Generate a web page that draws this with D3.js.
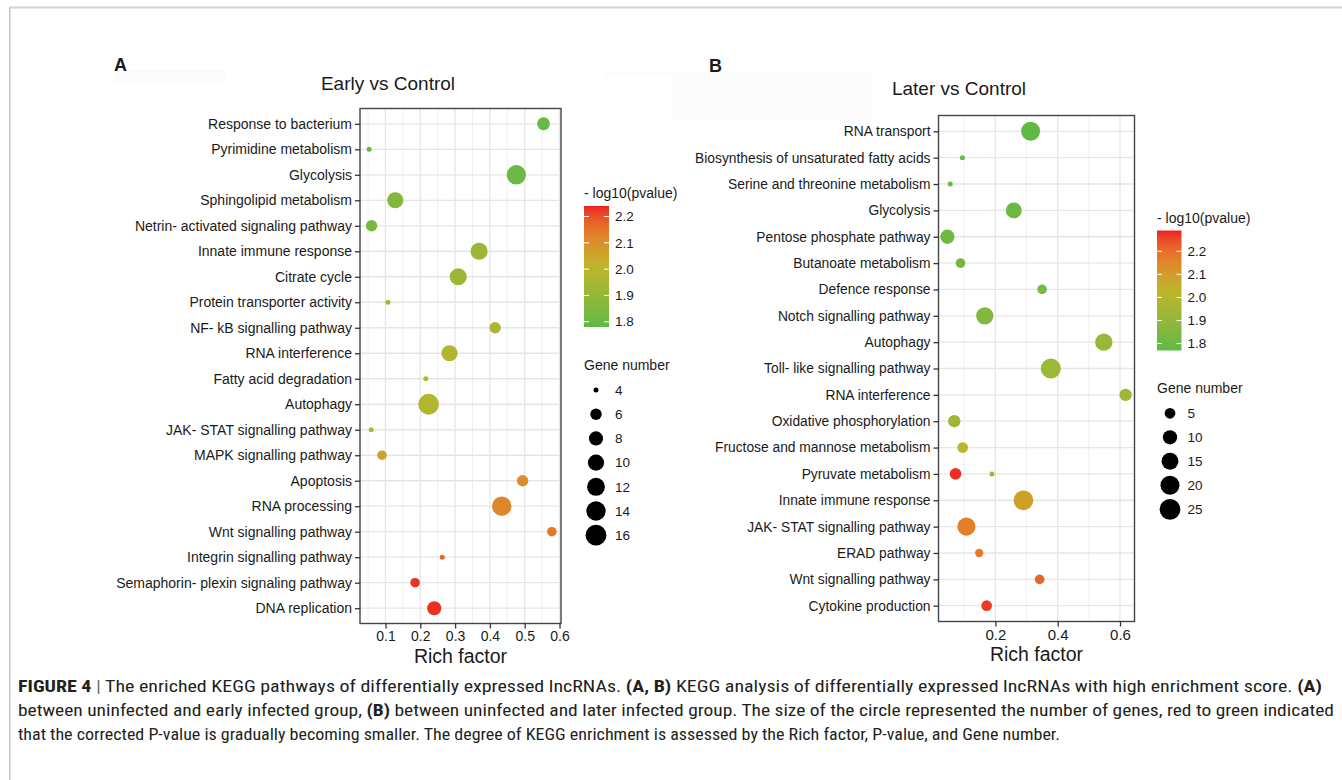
<!DOCTYPE html>
<html>
<head>
<meta charset="utf-8">
<script src="https://cdn.jsdelivr.net/npm/d3@7"></script>
<style>
  body { margin: 0; background: #fff; }
  svg text { font-family: "Liberation Sans", Arial, sans-serif; fill: #1a1a1a; }
  text.caption { font-family: "Liberation Sans Narrow", "Roboto Condensed", "Liberation Sans", sans-serif; fill: #231f20; }
</style>
</head>
<body>
<div id="fig"></div>
<script>
// Panel A: Early vs Control
var pathA = ["Response to bacterium", "Pyrimidine metabolism", "Glycolysis", "Sphingolipid metabolism",
  "Netrin- activated signaling pathway", "Innate immune response", "Citrate cycle", "Protein transporter activity",
  "NF- kB signalling pathway", "RNA interference", "Fatty acid degradation", "Autophagy",
  "JAK- STAT signalling pathway", "MAPK signalling pathway", "Apoptosis", "RNA processing",
  "Wnt signalling pathway", "Integrin signalling pathway", "Semaphorin- plexin signaling pathway", "DNA replication"];
var richA = [0.554, 0.053, 0.476, 0.128, 0.060, 0.369, 0.309, 0.107, 0.415, 0.284,
  0.216, 0.224, 0.059, 0.090, 0.494, 0.434, 0.578, 0.263, 0.185, 0.240];
var genesA = [7, 4, 14, 10, 6, 11, 11, 4, 6, 10, 4, 16, 4, 5, 6, 14, 5, 4, 5, 8];
var pvalA = [1.80, 1.80, 1.81, 1.86, 1.83, 1.92, 1.92, 1.95, 1.96, 1.97,
  1.98, 1.98, 1.99, 2.05, 2.10, 2.12, 2.15, 2.17, 2.23, 2.23];

// Panel B: Later vs Control (two different pathways share the name "Pyruvate metabolism")
var catsB = ["RNA transport", "Biosynthesis of unsaturated fatty acids", "Serine and threonine metabolism", "Glycolysis",
  "Pentose phosphate pathway", "Butanoate metabolism", "Defence response", "Notch signalling pathway", "Autophagy",
  "Toll- like signalling pathway", "RNA interference", "Oxidative phosphorylation", "Fructose and mannose metabolism",
  "Pyruvate metabolism", "Innate immune response", "JAK- STAT signalling pathway", "ERAD pathway",
  "Wnt signalling pathway", "Cytokine production"];
var pathB = catsB.concat(["Pyruvate metabolism"]);
var richB = [0.313, 0.094, 0.055, 0.259, 0.046, 0.088, 0.350, 0.166, 0.548, 0.378,
  0.618, 0.068, 0.095, 0.072, 0.290, 0.107, 0.148, 0.342, 0.172, 0.189];
var genesB = [20, 2, 2, 13, 10, 4, 4, 16, 16, 23, 7, 7, 5, 6, 22, 18, 3, 4, 5, 2];
var pvalB = [1.78, 1.79, 1.79, 1.80, 1.81, 1.82, 1.83, 1.86, 1.92, 1.93,
  1.93, 1.95, 2.03, 2.28, 2.09, 2.17, 2.18, 2.21, 2.27, 1.95];

// legend breaks / tick labels
var xTicksA = [0.1, 0.2, 0.3, 0.4, 0.5, 0.6];
var xTicksB = [0.2, 0.4, 0.6];
var colorTicks = [1.8, 1.9, 2.0, 2.1, 2.2];
var sizeBreaksA = [4, 6, 8, 10, 12, 14, 16];
var sizeBreaksB = [5, 10, 15, 20, 25];

var captionLines = [
  [["FIGURE 4", true], [" | ", false, "#6d6e71"], ["The enriched KEGG pathways of differentially expressed lncRNAs. ", false], ["(A, B)", true], [" KEGG analysis of differentially expressed lncRNAs with high enrichment score. ", false], ["(A)", true]],
  [["between uninfected and early infected group, ", false], ["(B)", true], [" between uninfected and later infected group. The size of the circle represented the number of genes, red to green indicated", false]],
  [["that the corrected P-value is gradually becoming smaller. The degree of KEGG enrichment is assessed by the Rich factor, P-value, and Gene number.", false]]
];

var width = 1342, height = 780;

var svg = d3.select("#fig").append("svg")
  .attr("width", width)
  .attr("height", height);

// figure frame (top and left rule)
svg.append("line").attr("x1", 9).attr("x2", width).attr("y1", 7.5).attr("y2", 7.5)
  .attr("stroke", "#d2d2d2").attr("stroke-width", 2);
svg.append("line").attr("x1", 9.8).attr("x2", 9.8).attr("y1", 7).attr("y2", height)
  .attr("stroke", "#c8c8c8").attr("stroke-width", 1.5);

// faint paste-over boxes behind panel letters
svg.append("rect").attr("x", 114).attr("y", 70).attr("width", 112).attr("height", 13).attr("fill", "#fbfbfb");
svg.append("rect").attr("x", 604).attr("y", 71).attr("width", 267).attr("height", 7).attr("fill", "#fcfcfc");
svg.append("rect").attr("x", 672).attr("y", 71).attr("width", 199).attr("height", 49).attr("fill", "#fcfcfc");

function drawPanel(cfg) {
  var g = svg.append("g");

  var data = cfg.path.map(function(p, i) {
    return { path: p, rich: cfg.rich[i], genes: cfg.genes[i], pval: cfg.pval[i] };
  });

  // x scale with ggplot-like 5% expansion
  var ext = d3.extent(cfg.rich);
  var pad = (ext[1] - ext[0]) * 0.05;
  var x = d3.scaleLinear()
    .domain([ext[0] - pad, ext[1] + pad])
    .range([cfg.left, cfg.right]);

  var y = d3.scalePoint()
    .domain(cfg.cats)
    .range([cfg.top, cfg.bottom])
    .padding(0.6);

  var lo = cfg.pRange[0], hi = cfg.pRange[1];
  var color = d3.scaleLinear()
    .domain([lo, lo + (hi - lo) * 0.5, lo + (hi - lo) * 0.76, hi])
    .range(["#5cb946", "#bdb52b", "#e3812a", "#ee1f25"])
    .interpolate(d3.interpolateLab);

  var norm = d3.scaleLinear().domain(cfg.gRange).range([0, 1]).clamp(true);
  function radius(v) { return 2.5 + 7.9 * Math.sqrt(norm(v)); }

  // grid
  var step = cfg.xTicks[1] - cfg.xTicks[0];
  var minor = [];
  for (var v = cfg.xTicks[0] - step / 2; v <= x.domain()[1]; v += step) {
    if (v >= x.domain()[0]) minor.push(v);
  }
  g.append("g").selectAll("line").data(minor).enter().append("line")
    .attr("x1", function(d) { return x(d); }).attr("x2", function(d) { return x(d); })
    .attr("y1", cfg.top).attr("y2", cfg.bottom)
    .attr("stroke", "#efefef").attr("stroke-width", 1);
  g.append("g").selectAll("line").data(cfg.xTicks).enter().append("line")
    .attr("x1", function(d) { return x(d); }).attr("x2", function(d) { return x(d); })
    .attr("y1", cfg.top).attr("y2", cfg.bottom)
    .attr("stroke", "#e6e6e6").attr("stroke-width", 1.3);
  g.append("g").selectAll("line").data(cfg.cats).enter().append("line")
    .attr("x1", cfg.left).attr("x2", cfg.right)
    .attr("y1", function(d) { return y(d); }).attr("y2", function(d) { return y(d); })
    .attr("stroke", "#e6e6e6").attr("stroke-width", 1.3);

  // points
  g.append("g").selectAll("circle").data(data).enter().append("circle")
    .attr("cx", function(d) { return x(d.rich); })
    .attr("cy", function(d) { return y(d.path); })
    .attr("r", function(d) { return radius(d.genes); })
    .attr("fill", function(d) { return color(d.pval); });

  // panel border
  g.append("rect")
    .attr("x", cfg.left).attr("y", cfg.top)
    .attr("width", cfg.right - cfg.left).attr("height", cfg.bottom - cfg.top)
    .attr("fill", "none").attr("stroke", "#444").attr("stroke-width", 1.4);

  // axes
  var yAxis = g.append("g")
    .attr("transform", "translate(" + cfg.left + ",0)")
    .call(d3.axisLeft(y).tickSize(5).tickPadding(3));
  yAxis.select(".domain").remove();
  yAxis.selectAll(".tick line").attr("stroke", "#333").attr("stroke-width", 1.3);
  yAxis.selectAll(".tick text").attr("font-size", cfg.yTickSize).attr("fill", "#1a1a1a");

  var xAxis = g.append("g")
    .attr("transform", "translate(0," + cfg.bottom + ")")
    .call(d3.axisBottom(x).tickValues(cfg.xTicks).tickFormat(d3.format(".1f")).tickSize(5).tickPadding(3));
  xAxis.select(".domain").remove();
  xAxis.selectAll(".tick line").attr("stroke", "#333").attr("stroke-width", 1.3);
  xAxis.selectAll(".tick text").attr("font-size", cfg.xTickSize).attr("fill", "#1a1a1a");

  g.append("text")
    .attr("x", (cfg.left + cfg.right) / 2).attr("y", cfg.bottom + 39)
    .attr("text-anchor", "middle").attr("font-size", 19.5)
    .text("Rich factor");

  g.append("text")
    .attr("x", cfg.titleX).attr("y", cfg.titleY)
    .attr("text-anchor", "middle").attr("font-size", 19)
    .text(cfg.title);

  g.append("text")
    .attr("x", cfg.letterX).attr("y", cfg.letterY)
    .attr("font-size", 18).attr("font-weight", "bold").attr("fill", "#000")
    .text(cfg.letter);

  // colour bar legend
  var lg = cfg.legend;
  var cb = d3.scaleLinear().domain(cfg.pRange).range([lg.barY + lg.barH, lg.barY]);
  var gradId = "grad" + cfg.letter;
  var grad = svg.append("defs").append("linearGradient")
    .attr("id", gradId).attr("x1", 0).attr("x2", 0).attr("y1", 1).attr("y2", 0);
  d3.range(0, 1.0001, 0.05).forEach(function(t) {
    grad.append("stop").attr("offset", t)
      .attr("stop-color", color(lo + t * (hi - lo)));
  });

  g.append("text").attr("x", lg.x).attr("y", lg.barY - 8)
    .attr("font-size", 14).text("- log10(pvalue)");
  g.append("rect").attr("x", lg.x).attr("y", lg.barY)
    .attr("width", lg.barW).attr("height", lg.barH)
    .attr("fill", "url(#" + gradId + ")");
  var ct = g.append("g").selectAll("g").data(colorTicks).enter().append("g");
  ct.append("line").attr("x1", lg.x).attr("x2", lg.x + 5)
    .attr("y1", function(d) { return cb(d); }).attr("y2", function(d) { return cb(d); })
    .attr("stroke", "#fff").attr("stroke-width", 1);
  ct.append("line").attr("x1", lg.x + lg.barW - 5).attr("x2", lg.x + lg.barW)
    .attr("y1", function(d) { return cb(d); }).attr("y2", function(d) { return cb(d); })
    .attr("stroke", "#fff").attr("stroke-width", 1);
  ct.append("text").attr("x", lg.x + lg.barW + 6)
    .attr("y", function(d) { return cb(d); }).attr("dy", "0.35em")
    .attr("font-size", 13.5).text(function(d) { return d3.format(".1f")(d); });

  // size legend
  g.append("text").attr("x", lg.x).attr("y", lg.sizeTitleY)
    .attr("font-size", 14).text("Gene number");
  var sl = g.append("g").selectAll("g").data(cfg.sizeBreaks).enter().append("g")
    .attr("transform", function(d, i) {
      return "translate(0," + (lg.sizeY0 + i * lg.sizeStep) + ")";
    });
  sl.append("circle").attr("cx", lg.dotX).attr("cy", 0)
    .attr("r", function(d) { return radius(d); }).attr("fill", "#000");
  sl.append("text").attr("x", lg.x + lg.barW + 6).attr("y", 0).attr("dy", "0.35em")
    .attr("font-size", 13.5).text(function(d) { return d; });
}

drawPanel({
  letter: "A", letterX: 114, letterY: 70.5,
  title: "Early vs Control", titleX: 388, titleY: 90,
  cats: pathA, path: pathA, rich: richA, genes: genesA, pval: pvalA,
  pRange: [1.78, 2.24], gRange: [4, 16],
  xTicks: xTicksA, xTickSize: 14, yTickSize: 14, sizeBreaks: sizeBreaksA,
  left: 360, right: 561, top: 108.5, bottom: 623.5,
  legend: { x: 584, barW: 25, barY: 206, barH: 121,
    sizeTitleY: 370, sizeY0: 390, sizeStep: 24.2, dotX: 596 }
});

drawPanel({
  letter: "B", letterX: 709, letterY: 72,
  title: "Later vs Control", titleX: 959, titleY: 95,
  cats: catsB, path: pathB, rich: richB, genes: genesB, pval: pvalB,
  pRange: [1.77, 2.29], gRange: [2, 25],
  xTicks: xTicksB, xTickSize: 15, yTickSize: 13.8, sizeBreaks: sizeBreaksB,
  left: 938.5, right: 1134.5, top: 115.5, bottom: 621.5,
  legend: { x: 1157, barW: 24.5, barY: 230.5, barH: 120,
    sizeTitleY: 393, sizeY0: 413.3, sizeStep: 24, dotX: 1170 }
});

// caption
var capLengths = [1304, 1316, 1042];
var cap = svg.append("g");
captionLines.forEach(function(line, i) {
  var t = cap.append("text")
    .attr("class", "caption")
    .attr("x", 18).attr("y", 692 + i * 24)
    .attr("font-size", 16)
    .attr("textLength", capLengths[i])
    .attr("lengthAdjust", "spacingAndGlyphs");
  line.forEach(function(seg) {
    var s = t.append("tspan").text(seg[0]);
    if (seg[1]) s.attr("font-weight", "bold");
    if (seg[2]) s.attr("fill", seg[2]);
  });
});
</script>
</body>
</html>
